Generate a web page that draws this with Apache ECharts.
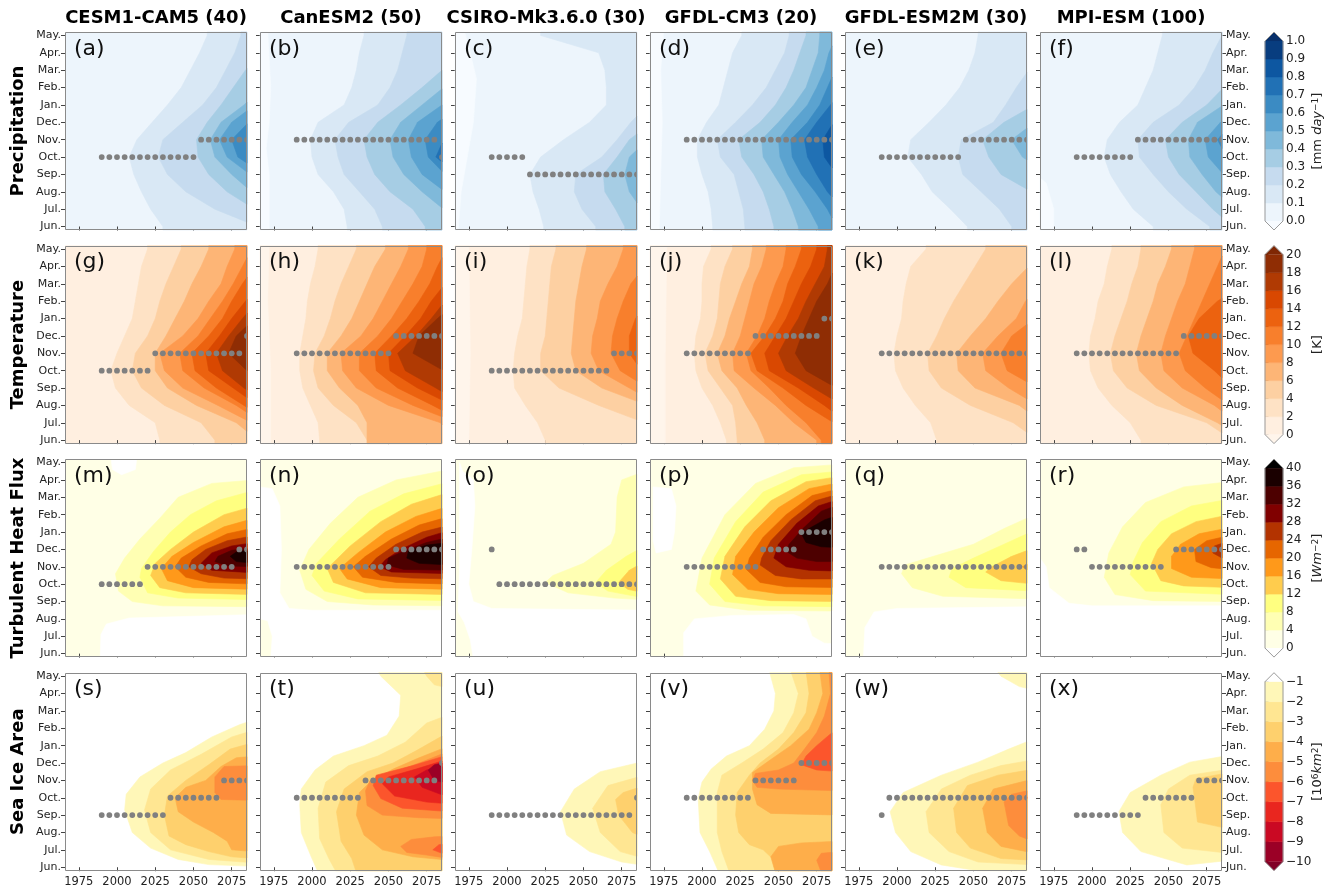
<!DOCTYPE html>
<html><head><meta charset="utf-8">
<script src="https://cdn.jsdelivr.net/npm/echarts@6/dist/echarts.min.js"></script>
<style>html,body{margin:0;padding:0;background:#fff}#c{width:1332px;height:891px}</style>
</head><body><div id="c"></div><script>
// ---------- categories / labels ----------
const months = ['Jun.','Jul.','Aug.','Sep.','Oct.','Nov.','Dec.','Jan.','Feb.','Mar.','Apr.','May.'];
const monthIdx = [0,1,2,3,4,5,6,7,8,9,10,11];
const models = ['CESM1-CAM5 (40)','CanESM2 (50)','CSIRO-Mk3.6.0 (30)','GFDL-CM3 (20)','GFDL-ESM2M (30)','MPI-ESM (100)'];
const variables = ['Precipitation','Temperature','Turbulent Heat Flux','Sea Ice Area'];
const letters = ['a','b','c','d','e','f','g','h','i','j','k','l','m','n','o','p','q','r','s','t','u','v','w','x'];
const xTicks = [1975,2000,2025,2050,2075];

// ---------- contour levels (colorbar ticks) ----------
const precipLevels = [0,0.1,0.2,0.3,0.4,0.5,0.6,0.7,0.8,0.9,1.0];
const tempLevels = [0,2,4,6,8,10,12,14,16,18,20];
const thfLevels = [0,4,8,12,16,20,24,28,32,36,40];
const iceLevels = [-10,-9,-8,-7,-6,-5,-4,-3,-2,-1];

// palettes: [under, bins..., over]
const bluesPal = ['#f7fbff','#edf5fc','#d9e8f5','#c6dbef','#a6cde4','#7fb9da','#5ba3d0','#3b8bc3','#2171b5','#0d57a1','#083d7f','#08306b'];
const orangesPal = ['#fff5eb','#ffefe0','#fee2c5','#fdd0a2','#fdb576','#fd9a4f','#f87f2c','#ec620f','#d94801','#b03a03','#8f2d04','#7f2704'];
const hotPal = ['#ffffff','#ffffe6','#ffffb3','#ffff80','#ffcc4d','#ff991a','#e66600','#b33300','#800000','#4d0000','#1a0000','#000000'];
const icePal = ['#800026','#9b0026','#ca0923','#e9261f','#fc552c','#fd8d3c','#feae4a','#fed06d','#ffe692','#fff7b8','#ffffff'];

// ---------- contour fields ----------
// each layer: [bin, boundary]; boundary = 12 years (Jun..May) where the bin starts (region to the right),
// or a list of [year, monthIndex] outline points. bin -1 = below lowest level.
const contA = [
  [1,[2030,2022,2016,2011,2008,2013,2023,2033,2042,2048,2054,2059]],
  [2,[2092,2064,2045,2033,2027,2030,2043,2056,2065,2071,2077,2081]],
  [3,[2100,2090,2072,2060,2053,2052,2059,2068,2076,2084,2095,2105]],
  [4,[2110,2100,2088,2075,2064,2061,2068,2083,2095,2105,2110,2110]],
  [5,[2110,2110,2100,2087,2072,2067,2075,2090,2105,2110,2110,2110]],
  [6,[2110,2110,2110,2096,2079,2075,2086,2100,2110,2110,2110,2110]]
];
const contB = [
  [-1,[[1966,-0.3],[1972,-0.3],[1972,3],[1970,4.5],[1972,6],[1973,8],[1971,11.3],[1966,11.3]]],
  [1,[2023,2021,2014,2004,2000,1999,2004,2021,2026,2029,2031,2034]],
  [2,[2046,2041,2031,2021,2017,2015,2024,2043,2051,2056,2059,2062]],
  [3,[2074,2066,2051,2041,2036,2034,2043,2058,2072,2085,2095,2100]],
  [4,[2100,2086,2072,2060,2053,2051,2058,2072,2086,2100,2110,2110]],
  [5,[2110,2100,2087,2072,2065,2063,2069,2085,2100,2110,2110,2110]],
  [6,[2110,2110,2100,2087,2076,2074,2082,2098,2110,2110,2110,2110]],
  [7,[2110,2110,2110,2095,2081,2086,2100,2110,2110,2110,2110,2110]]
];
const contC = [
  [-1,[[1966,11.3],[1966,-0.3],[1968,-0.3],[1970,2],[1974,4],[1978,6],[1980,8.5],[1976,10],[1972,11.3]]],
  [1,[2024,2021,2017,2015,2022,2037,2054,2065,2065,2064,2060,2022]],
  [2,[2058,2049,2044,2045,2062,2072,2081,2092,2110,2110,2110,2110]],
  [3,[2077,2071,2064,2063,2072,2080,2095,2110,2110,2110,2110,2110]],
  [4,[2095,2088,2080,2077,2080,2092,2110,2110,2110,2110,2110,2110]]
];
const contD = [
  [-1,[[1966,-0.3],[1972,-0.3],[1973,3],[1974,6],[1973,9],[1975,11.3],[1966,11.3]]],
  [1,[2007,2006,2004,2000,1997,1997,2003,2011,2014,2017,2020,2026]],
  [2,[2028,2027,2024,2021,2012,2010,2022,2033,2042,2048,2054,2057]],
  [3,[2047,2044,2040,2034,2026,2024,2038,2048,2055,2060,2064,2068]],
  [4,[2063,2059,2054,2047,2040,2039,2050,2060,2068,2072,2076,2077]],
  [5,[2076,2070,2063,2056,2051,2050,2059,2069,2075,2080,2083,2088]],
  [6,[2088,2082,2074,2065,2059,2058,2069,2077,2082,2087,2095,2100]],
  [7,[2100,2092,2082,2075,2069,2067,2075,2084,2092,2100,2110,2110]],
  [8,[2110,2110,2100,2088,2080,2079,2086,2100,2110,2110,2110,2110]]
];
const contE = [
  [1,[2046,2035,2023,2016,2007,2009,2021,2032,2041,2047,2051,2053]],
  [2,[2075,2067,2055,2043,2040,2042,2063,2071,2078,2086,2095,2100]],
  [3,[2110,2100,2088,2068,2060,2056,2070,2090,2105,2110,2110,2110]],
  [4,[2110,2110,2110,2100,2082,2075,2090,2110,2110,2110,2110,2110]]
];
const contF = [
  [-1,[[1966,-0.3],[1975,-0.3],[1975,1.0],[1970,2.5],[1966,2.8]]],
  [1,[2040,2027,2019,2012,2008,2010,2018,2030,2035,2040,2043,2046]],
  [2,[2077,2062,2050,2040,2031,2030,2040,2057,2067,2074,2079,2085]],
  [3,[2092,2079,2068,2057,2050,2048,2059,2075,2086,2100,2110,2110]],
  [4,[2110,2094,2081,2072,2064,2063,2069,2086,2100,2110,2110,2110]],
  [5,[2110,2110,2100,2086,2076,2074,2084,2100,2110,2110,2110,2110]],
  [6,[2110,2110,2110,2100,2088,2082,2092,2110,2110,2110,2110,2110]]
];
const contG = [
  [1,[2028,2025,2008,1999,1996,2000,2005,2010,2012,2014,2016,2020]],
  [2,[2064,2055,2031,2016,2010,2012,2020,2025,2028,2032,2037,2042]],
  [3,[2092,2078,2052,2033,2025,2025,2032,2038,2044,2049,2055,2060]],
  [4,[2100,2088,2066,2043,2031,2028,2043,2053,2060,2068,2072,2077]],
  [5,[2110,2095,2078,2057,2043,2041,2053,2061,2069,2076,2082,2088]],
  [6,[2110,2100,2083,2065,2051,2049,2060,2069,2075,2082,2090,2100]],
  [7,[2110,2110,2092,2076,2060,2058,2067,2075,2084,2095,2105,2110]],
  [8,[2110,2110,2100,2083,2069,2065,2073,2082,2092,2105,2110,2110]],
  [9,[2110,2110,2110,2100,2085,2073,2078,2090,2105,2110,2110,2110]]
];
const contH = [
  [-1,[[1966,-0.3],[1973,-0.3],[1973,4],[1971,8],[1972,11.3],[1966,11.3]]],
  [1,[2005,2004,1999,1994,1992,1992,1994,1996,1997,1999,2002,2004]],
  [2,[2036,2029,2014,2004,2001,2002,2008,2012,2015,2019,2024,2029]],
  [3,[2036,2036,2030,2018,2010,2010,2019,2026,2031,2036,2041,2048]],
  [4,[2092,2084,2050,2029,2020,2019,2032,2040,2046,2052,2058,2063]],
  [5,[2110,2095,2066,2042,2031,2031,2043,2052,2059,2066,2072,2075]],
  [6,[2110,2100,2079,2056,2042,2041,2052,2062,2070,2077,2082,2088]],
  [7,[2110,2110,2092,2069,2051,2050,2061,2071,2078,2087,2095,2105]],
  [8,[2110,2110,2100,2081,2061,2056,2068,2078,2087,2100,2110,2110]],
  [9,[2110,2110,2110,2100,2086,2066,2070,2082,2095,2110,2110,2110]]
];
const contI = [
  [-1,[[1966,-0.3],[1975,-0.3],[1976,5],[1975,11.3],[1966,11.3]]],
  [1,[2025,2020,2012,2005,2004,2005,2007,2010,2011,2012,2013,2015]],
  [2,[2100,2090,2060,2034,2022,2022,2025,2026,2027,2028,2029,2032]],
  [3,[2110,2105,2092,2062,2045,2042,2043,2044,2045,2047,2049,2052]],
  [4,[2110,2110,2100,2080,2060,2055,2056,2059,2061,2066,2072,2076]],
  [5,[2110,2110,2110,2092,2074,2068,2069,2072,2076,2081,2090,2100]],
  [6,[2110,2110,2110,2100,2088,2080,2080,2084,2092,2110,2110,2110]]
];
const contJ = [
  [-1,[[1966,-0.3],[1976,-0.3],[1976,5],[1977,11.3],[1966,11.3]]],
  [1,[2016,2012,2007,2000,1996,1995,1996,1999,2000,2000,2001,2006]],
  [2,[2023,2022,2020,2012,2004,2002,2007,2010,2011,2012,2015,2020]],
  [3,[2041,2036,2029,2023,2013,2010,2015,2018,2022,2026,2031,2033]],
  [4,[2075,2060,2048,2034,2021,2020,2025,2028,2031,2034,2039,2042]],
  [5,[2078,2068,2055,2044,2032,2029,2036,2041,2044,2048,2053,2055]],
  [6,[2095,2086,2068,2053,2036,2032,2041,2048,2053,2056,2061,2065]],
  [7,[2110,2095,2080,2063,2044,2041,2048,2055,2060,2065,2071,2075]],
  [8,[2110,2110,2092,2073,2055,2050,2056,2063,2068,2074,2080,2082]],
  [9,[2110,2110,2110,2088,2068,2061,2065,2070,2075,2082,2087,2095]]
];
const contK = [
  [1,[2026,2022,2012,2004,1999,1998,2000,2003,2004,2006,2009,2019]],
  [2,[2092,2076,2048,2029,2021,2020,2026,2031,2037,2044,2051,2058]],
  [3,[2110,2095,2080,2051,2040,2039,2048,2058,2066,2075,2086,2095]],
  [4,[2110,2110,2092,2073,2058,2056,2066,2078,2084,2095,2105,2110]],
  [5,[2110,2110,2110,2092,2072,2068,2075,2090,2105,2110,2110,2110]]
];
const contL = [
  [1,[2032,2025,2013,2004,1999,1998,1999,2002,2004,2008,2010,2013]],
  [2,[2092,2075,2042,2023,2014,2012,2015,2019,2023,2026,2030,2032]],
  [3,[2100,2082,2059,2042,2031,2029,2032,2036,2040,2043,2048,2052]],
  [4,[2110,2095,2080,2059,2047,2045,2048,2052,2056,2061,2064,2067]],
  [5,[2110,2110,2090,2074,2061,2057,2062,2067,2072,2077,2082,2087]],
  [6,[2110,2110,2110,2092,2080,2066,2063,2070,2082,2100,2110,2110]]
];
const contM = [
  [-1,[[1996,11.3],[1997,10.6],[2003,10.3],[2012,10.6],[2013,11.3]]],
  [-1,[[1989,-0.3],[1989.5,1.1],[1993,1.7],[2008,2.05],[2090,2.25],[2090,-0.3]]],
  [1,[[2090,10.0],[2062,9.8],[2040,9.0],[2028,7.8],[2015,6.6],[2005,5.5],[1999,4.6],[2001,3.6],[2010,3.0],[2030,2.75],[2090,2.7]]],
  [2,[[2090,9.4],[2065,8.8],[2048,8.0],[2035,7.0],[2024,5.9],[2016,4.9],[2015,4.4],[2020,3.5],[2040,3.2],[2090,3.1]]],
  [3,[[2090,8.5],[2070,8.0],[2050,7.0],[2035,6.0],[2025,5.2],[2022,4.5],[2028,3.8],[2045,3.5],[2090,3.4]]],
  [4,[[2090,7.8],[2070,7.3],[2050,6.4],[2036,5.6],[2029,4.9],[2033,4.2],[2050,3.8],[2090,3.7]]],
  [5,[[2090,7.25],[2072,6.9],[2055,6.2],[2042,5.5],[2038,5.0],[2045,4.4],[2060,4.1],[2090,4.0]]],
  [6,[[2090,6.8],[2072,6.5],[2058,6.0],[2049,5.4],[2047,5.0],[2055,4.6],[2070,4.35],[2090,4.3]]],
  [7,[[2090,6.4],[2075,6.2],[2062,5.8],[2055,5.2],[2062,4.8],[2090,4.65]]],
  [8,[[2090,6.1],[2075,5.95],[2066,5.6],[2064,5.3],[2072,5.05],[2090,5.0]]],
  [9,[[2090,6.0],[2078,5.85],[2074,5.6],[2078,5.3],[2090,5.2]]]
];
const contN = [
  [-1,[[1966,2.6],[1966,9.6],[1974,9.5],[1979,8.5],[1980,6],[1979,3.5],[1985,2.6],[2000,2.5],[2090,2.5],[2090,-0.3],[1973,-0.3],[1974,1],[1971,1.9],[1966,2.0]]],
  [1,[[2090,10.6],[2055,10.0],[2030,9.0],[2012,7.5],[1998,6.0],[1992,4.8],[1996,3.7],[2010,3.0],[2040,2.8],[2090,2.75]]],
  [2,[[2090,9.9],[2060,9.2],[2038,8.2],[2018,6.6],[2003,5.2],[2000,4.5],[2008,3.6],[2030,3.15],[2090,3.05]]],
  [3,[[2090,9.3],[2065,8.6],[2045,7.6],[2025,6.2],[2010,4.9],[2014,4.1],[2035,3.5],[2090,3.4]]],
  [4,[[2090,8.5],[2068,7.9],[2048,7.0],[2030,5.8],[2018,4.9],[2023,4.3],[2045,3.8],[2090,3.7]]],
  [5,[[2090,7.9],[2070,7.4],[2052,6.6],[2035,5.6],[2027,5.0],[2033,4.4],[2055,4.1],[2090,4.0]]],
  [6,[[2090,7.4],[2072,7.0],[2055,6.3],[2042,5.5],[2037,5.0],[2045,4.5],[2065,4.35],[2090,4.3]]],
  [7,[[2090,7.1],[2075,6.7],[2058,6.0],[2048,5.4],[2044,5.0],[2052,4.7],[2090,4.6]]],
  [8,[[2090,6.7],[2075,6.4],[2060,5.9],[2050,5.5],[2049,5.1],[2060,4.85],[2090,4.8]]],
  [9,[[2090,6.4],[2075,6.25],[2063,5.9],[2062,5.5],[2070,5.2],[2090,5.1]]]
];
const contO = [
  [-1,[[1969,11.0],[1971,10.5],[1978,10.0],[1979,8.5],[1977,6],[1975,4],[1978,3],[1990,2.6],[2040,2.55],[2090,2.5],[2090,-0.3],[1978,-0.3],[1976,0.8],[1972,1.8],[1968,2.4],[1969,5],[1969,9]]],
  [1,[[2090,10.5],[2075,10.0],[2072,9],[2071,7.0],[2068,6.3],[2050,5.2],[2030,4.5],[2025,4.1],[2040,3.5],[2070,3.2],[2090,3.1]]],
  [2,[[2090,6.2],[2078,5.6],[2065,4.8],[2058,4.1],[2066,3.6],[2090,3.2]]],
  [3,[[2090,5.3],[2080,4.8],[2073,4.1],[2079,3.7],[2090,3.5]]]
];
const contP = [
  [-1,[[1968,9.6],[1980,9.5],[1983,8.5],[1982,7],[1980,6],[1970,5.8],[1968,6.5]]],
  [-1,[[1988,-0.3],[1988,1.2],[1995,2.0],[2020,2.2],[2060,2.25],[2068,2.0],[2072,1.0],[2080,0.6],[2090,0.55],[2090,-0.3]]],
  [1,[[2090,10.9],[2060,10.7],[2035,9.8],[2015,8],[2000,5.5],[1996,3.6],[2005,2.8],[2030,2.5],[2090,2.45]]],
  [2,[[2090,10.5],[2065,10.3],[2040,9.3],[2022,7.6],[2008,5.5],[2005,4.0],[2015,3.0],[2040,2.75],[2090,2.7]]],
  [3,[[2090,10.2],[2068,9.9],[2045,8.8],[2028,7.3],[2015,5.6],[2012,4.3],[2022,3.3],[2045,3.05],[2090,3.0]]],
  [4,[[2090,9.85],[2070,9.5],[2050,8.4],[2034,7.0],[2022,5.6],[2020,4.55],[2030,3.7],[2050,3.45],[2090,3.4]]],
  [5,[[2090,9.5],[2072,9.1],[2055,8.0],[2040,6.7],[2031,5.5],[2029,4.85],[2038,4.1],[2055,3.85],[2090,3.8]]],
  [6,[[2090,9.2],[2074,8.8],[2058,7.7],[2045,6.5],[2039,5.5],[2038,5.1],[2048,4.5],[2065,4.3],[2090,4.3]]],
  [7,[[2090,8.9],[2076,8.5],[2062,7.5],[2050,6.3],[2047,5.5],[2055,5.0],[2070,4.8],[2090,4.75]]],
  [8,[[2090,8.6],[2078,8.2],[2066,7.2],[2057,6.3],[2055,5.9],[2062,5.5],[2075,5.3],[2090,5.3]]],
  [9,[[2090,8.0],[2080,7.7],[2070,7.2],[2065,6.9],[2068,6.4],[2078,6.15],[2090,6.1]]]
];
const contQ = [
  [-1,[[1978,-0.3],[1979,1.5],[1985,2.4],[2000,2.6],[2090,2.7],[2090,-0.3]]],
  [1,[[2090,8.0],[2070,7.2],[2050,6.3],[2020,5.5],[2005,5.1],[2003,4.6],[2010,3.8],[2030,3.3],[2090,3.15]]],
  [2,[[2090,7.1],[2070,6.3],[2050,5.5],[2036,4.9],[2034,4.4],[2045,3.8],[2090,3.6]]],
  [3,[[2090,6.1],[2075,5.6],[2062,5.0],[2058,4.7],[2068,4.2],[2090,4.0]]],
  [4,[[2090,5.4],[2082,5.0],[2090,4.5]]]
];
const contR = [
  [-1,[[1966,-0.3],[1966,5.5],[1970,5],[1972,3.8],[1985,2.9],[2000,2.75],[2090,2.75],[2090,-0.3]]],
  [1,[[2090,9.9],[2060,9.6],[2035,8.7],[2020,7.3],[2011,5.8],[2008,4.4],[2015,3.4],[2040,3.05],[2090,3.0]]],
  [2,[[2090,8.9],[2065,8.5],[2045,7.6],[2033,6.4],[2027,5.3],[2025,4.55],[2035,3.6],[2090,3.4]]],
  [3,[[2090,8.0],[2068,7.6],[2052,6.9],[2043,6.0],[2039,5.2],[2045,4.2],[2060,3.9],[2090,3.8]]],
  [4,[[2090,7.25],[2070,6.9],[2058,6.3],[2052,5.6],[2052,4.9],[2065,4.4],[2090,4.3]]],
  [5,[[2090,6.8],[2075,6.5],[2067,6.0],[2068,5.3],[2078,4.95],[2090,4.85]]],
  [6,[[2090,6.5],[2080,6.2],[2079,5.8],[2085,5.5],[2090,5.5]]]
];
const contS = [
  [8,[[2090,8.5],[2080,8.2],[2062,7.5],[2045,6.6],[2030,6.0],[2015,5.2],[2006,4.2],[2005,3.3],[2010,2.0],[2022,1.1],[2040,0.45],[2060,0.15],[2090,0.05]]],
  [7,[[2090,7.9],[2075,7.5],[2055,6.5],[2035,5.6],[2022,4.5],[2018,3.3],[2022,2.0],[2035,1.0],[2060,0.45],[2090,0.25]]],
  [6,[[2090,7.2],[2074,6.8],[2060,5.9],[2045,5.0],[2033,4.1],[2031,3.0],[2034,1.8],[2045,1.3],[2060,0.9],[2075,0.6],[2090,0.5]]],
  [5,[[2090,6.4],[2078,6.3],[2068,5.8],[2058,5.0],[2045,4.6],[2038,4.0],[2040,3.2],[2050,2.6],[2063,2.0],[2072,1.5],[2075,1.0],[2090,0.9]]],
  [4,[[2090,5.85],[2070,5.8],[2064,5.2],[2064,4.3],[2068,3.9],[2090,3.85]]]
];
const contT = [
  [8,[[2043,11.3],[2045,11],[2058,9.9],[2057,8.7],[2049,7.6],[2034,7.0],[2014,6.4],[2002,5.6],[1993,4.5],[1992,3.6],[1993,2.0],[1999,0.7],[2004,-0.3],[2200,-0.3],[2200,11.3]]],
  [7,[[2073,11.3],[2075,11],[2080,10.5],[2090,10.3],[2090,11.3]]],
  [7,[[2090,8.8],[2075,8.3],[2061,7.2],[2043,6.4],[2024,5.85],[2009,4.9],[2004,3.4],[2005,1.65],[2011,0.5],[2016,-0.3],[2200,-0.3],[2200,8.8]]],
  [6,[[2090,7.8],[2068,6.7],[2053,6.0],[2036,5.5],[2021,4.5],[2016,3.2],[2019,1.5],[2026,0.5],[2029,-0.3],[2200,-0.3],[2200,7.8]]],
  [5,[[2090,7.0],[2070,6.3],[2053,5.65],[2038,4.9],[2031,4.3],[2029,3.0],[2034,1.85],[2046,1.0],[2066,0.6],[2090,0.4]]],
  [4,[[2090,1.8],[2080,1.75],[2065,1.6],[2058,1.2],[2062,0.85],[2075,0.7],[2090,0.5]]],
  [3,[[2090,1.4],[2083,1.3],[2079,1.0],[2085,0.8],[2090,0.75]]],
  [4,[[2090,6.7],[2073,6.1],[2053,5.45],[2038,5.0],[2035,4.4],[2036,3.55],[2046,3.0],[2070,2.85],[2090,2.8]]],
  [3,[[2090,6.5],[2066,5.85],[2042,5.3],[2040,4.7],[2045,3.95],[2059,3.4],[2090,3.2]]],
  [2,[[2090,6.25],[2068,5.65],[2050,5.2],[2046,4.8],[2054,4.1],[2075,3.75],[2090,3.65]]],
  [1,[[2090,5.9],[2075,5.6],[2067,5.2],[2072,4.6],[2090,4.0]]],
  [0,[[2090,6.1],[2080,5.9],[2076,5.6],[2080,5.0],[2090,4.8]]]
];
const contU = [
  [8,[[2090,6.1],[2061,5.5],[2044,4.5],[2035,3.2],[2039,1.85],[2054,0.9],[2075,0.3],[2090,0.1]]],
  [7,[[2090,5.3],[2066,4.7],[2056,3.4],[2061,2.0],[2074,0.9],[2090,0.5]]],
  [6,[[2090,4.7],[2076,4.3],[2071,3.9],[2073,3.0],[2082,2.0],[2090,1.7]]]
];
const contV = [
  [8,[[2044,11.3],[2048,10],[2047,9],[2041,7.95],[2031,7.0],[2016,6.4],[2006,5.65],[2000,4.9],[1997.5,3.95],[1998.7,2.0],[2005,0.9],[2011,-0.3],[2200,-0.3],[2200,11.3]]],
  [7,[[2058,11.3],[2063,10],[2060,8.9],[2053,7.75],[2040,6.8],[2026,6.0],[2013,5.3],[2010,4.3],[2010,2.0],[2013,0.9],[2018,-0.3],[2200,-0.3],[2200,11.3]]],
  [6,[[2068,11.3],[2070,10],[2068,8.9],[2060,7.75],[2050,6.8],[2038,6.0],[2031,5.3],[2023,4.3],[2022,3.0],[2024,2.0],[2031,1.3],[2040,1.0],[2046,0.5],[2048,-0.3],[2200,-0.3],[2200,11.3]]],
  [5,[[2077,11.3],[2079,10],[2075,8.9],[2070,7.95],[2058,7.0],[2045,6.2],[2033,5.45],[2033,4.5],[2036,3.6],[2045,3.1],[2090,3.0],[2090,11.3]]],
  [5,[[2090,1.5],[2065,1.4],[2050,1.2],[2045,0.6],[2048,-0.3],[2090,-0.3]]],
  [4,[[2083,11.3],[2084,10],[2080,8.7],[2075,7.75],[2067,6.8],[2060,6.0],[2050,5.6],[2035,5.4],[2033,5.0],[2036,4.6],[2050,4.5],[2090,4.4],[2090,11.3]]],
  [4,[[2090,0.9],[2078,0.8],[2075,0.4],[2078,-0.3],[2090,-0.3]]],
  [3,[[2090,8.1],[2083,7.6],[2075,7.0],[2068,6.4],[2065,5.9],[2075,5.6],[2090,5.5]]]
];
const contW = [
  [8,[[2065,11.3],[2068,11],[2080,10.4],[2090,10.2],[2090,11.3]]],
  [8,[[2090,7.4],[2073,6.8],[2053,6.05],[2029,5.3],[2004,4.3],[1995.5,3.2],[1999,2.0],[2009,0.9],[2029,0.13],[2060,-0.3],[2090,-0.3]]],
  [7,[[2090,6.2],[2068,5.85],[2048,5.3],[2029,4.5],[2019,3.2],[2021,2.0],[2034,0.9],[2053,0.3],[2090,0.13]]],
  [6,[[2090,5.65],[2066,5.3],[2046,4.7],[2037,3.4],[2039,2.0],[2048,1.1],[2068,0.5],[2090,0.4]]],
  [5,[[2090,5.1],[2063,4.5],[2056,3.4],[2059,2.0],[2068,1.2],[2090,0.8]]],
  [4,[[2090,4.5],[2075,4.2],[2070,3.75],[2073,2.4],[2080,1.8],[2090,1.45]]],
  [3,[[2090,4.3],[2084,4.0],[2090,3.7]]]
];
const contX = [
  [8,[[2090,6.45],[2064,6.05],[2045,5.3],[2025,4.3],[2017.6,3.2],[2020,2.0],[2032,0.9],[2062,0.13],[2080,0.3],[2090,0.4]]],
  [7,[[2090,5.65],[2064,5.3],[2050,4.5],[2045,3.6],[2047,2.0],[2059,1.1],[2090,0.8]]],
  [6,[[2090,5.45],[2068,5.1],[2066,4.6],[2067,4.0],[2069,2.6],[2090,2.2]]]
];

// ---------- significance dots: [monthIndex, years] ----------
const dotsA = [[4,[1990,1995,2000,2005,2010,2015,2020,2025,2030,2035,2040,2045,2050]],[5,[2055,2060,2065,2070,2075,2080,2085]]];
const dotsB = [[5,[1990,1995,2000,2005,2010,2015,2020,2025,2030,2035,2040,2045,2050,2055,2060,2065,2070,2075,2080]],[4,[2085]]];
const dotsC = [[4,[1990,1995,2000,2005,2010]],[3,[2015,2020,2025,2030,2035,2040,2045,2050,2055,2060,2065,2070,2075,2080,2085]]];
const dotsD = [[5,[1990,1995,2000,2005,2010,2015,2020,2025,2030,2035,2040,2045,2050,2055,2060,2065,2070,2075,2080,2085]]];
const dotsE = [[4,[1990,1995,2000,2005,2010,2015,2020,2025,2030,2035,2040]],[5,[2045,2050,2055,2060,2065,2070,2075,2080,2085]]];
const dotsF = [[4,[1990,1995,2000,2005,2010,2015,2020,2025]],[5,[2030,2035,2040,2045,2050,2055,2060,2065,2070,2075,2080,2085]]];
const dotsG = [[4,[1990,1995,2000,2005,2010,2015,2020]],[5,[2025,2030,2035,2040,2045,2050,2055,2060,2065,2070,2075,2080]],[6,[2085]]];
const dotsH = [[5,[1990,1995,2000,2005,2010,2015,2020,2025,2030,2035,2040,2045,2050]],[6,[2055,2060,2065,2070,2075,2080,2085]]];
const dotsI = [[4,[1990,1995,2000,2005,2010,2015,2020,2025,2030,2035,2040,2045,2050,2055,2060,2065]],[5,[2070,2075,2080,2085]]];
const dotsJ = [[5,[1990,1995,2000,2005,2010,2015,2020,2025,2030]],[6,[2035,2040,2045,2050,2055,2060,2065,2070,2075]],[7,[2080,2085]]];
const dotsK = [[5,[1990,1995,2000,2005,2010,2015,2020,2025,2030,2035,2040,2045,2050,2055,2060,2065,2070,2075,2080,2085]]];
const dotsL = [[5,[1990,1995,2000,2005,2010,2015,2020,2025,2030,2035,2040,2045,2050,2055]],[6,[2060,2065,2070,2075,2080,2085]]];
const dotsM = [[4,[1990,1995,2000,2005,2010,2015]],[5,[2020,2025,2030,2035,2040,2045,2050,2055,2060,2065,2070,2075]],[6,[2080,2085]]];
const dotsN = [[5,[1990,1995,2000,2005,2010,2015,2020,2025,2030,2035,2040,2045,2050]],[6,[2055,2060,2065,2070,2075,2080,2085]]];
const dotsO = [[6,[1990]],[4,[1995,2000,2005,2010,2015,2020,2025,2030,2035,2040,2045,2050,2055,2060,2065,2070,2075,2080,2085]]];
const dotsP = [[5,[1990,1995,2000,2005,2010,2015,2020,2025,2030,2035]],[6,[2040,2045,2050,2055,2060]],[7,[2065,2070,2075,2080,2085]]];
const dotsQ = [[5,[1990,1995,2000,2005,2010,2015,2020,2025,2030,2035,2040,2045,2050,2055,2060,2065,2070,2075,2080,2085]]];
const dotsR = [[6,[1990,1995]],[5,[2000,2005,2010,2015,2020,2025,2030,2035,2040,2045]],[6,[2055,2060,2065,2070,2075,2080,2085]]];
const dotsS = [[3,[1990,1995,2000,2005,2010,2015,2020,2025,2030]],[4,[2035,2040,2045,2050,2055,2060,2065]],[5,[2070,2075,2080,2085]]];
const dotsT = [[4,[1990,1995,2000,2005,2010,2015,2020,2025,2030]],[5,[2035,2040,2045,2050,2055,2060,2065,2070,2075,2080]],[6,[2085]]];
const dotsU = [[3,[1990,1995,2000,2005,2010,2015,2020,2025,2030,2035,2040,2045,2050,2055,2060,2065,2070,2075,2080]],[4,[2085]]];
const dotsV = [[4,[1990,1995,2000,2005,2010,2015,2020,2025,2030]],[5,[2035,2040,2045,2050,2055,2060]],[6,[2065,2070,2075,2080,2085]]];
const dotsW = [[3,[1990]],[4,[1995,2000,2005,2010,2015,2020,2025,2030,2035,2040,2045,2050,2055,2060,2065,2070,2075,2080,2085]]];
const dotsX = [[3,[1990,1995,2000,2005,2010,2015,2020,2025,2030]],[4,[2035,2040,2045,2050,2055,2060,2065]],[5,[2070,2075,2080,2085]]];

// ---------- layout ----------
const COL_LEFT = [65,260,455,650,845,1040], PW = 182;
const ROW_TOP = [32,245.6,459.1,672.7], PH = 198;
const X_MIN = 1966, X_MAX = 2085, Y_MIN = -0.2, Y_MAX = 11.2;
const CB_EXT = 9;
const FONT = '"DejaVu Sans", sans-serif';

const rows = [
  {pal: bluesPal, bg: 0, levels: precipLevels, step: 0.1, fmt: v => v.toFixed(1),
   unit: '[mm {it|day}{sup|−1}]', panels: [contA,contB,contC,contD,contE,contF], dots: [dotsA,dotsB,dotsC,dotsD,dotsE,dotsF]},
  {pal: orangesPal, bg: 0, levels: tempLevels, step: 2, fmt: v => String(Math.round(v)),
   unit: '[K]', panels: [contG,contH,contI,contJ,contK,contL], dots: [dotsG,dotsH,dotsI,dotsJ,dotsK,dotsL]},
  {pal: hotPal, bg: 0, levels: thfLevels, step: 4, fmt: v => String(Math.round(v)),
   unit: '[{it|Wm}{sup|−2}]', panels: [contM,contN,contO,contP,contQ,contR], dots: [dotsM,dotsN,dotsO,dotsP,dotsQ,dotsR]},
  {pal: icePal, bg: 9, levels: iceLevels, step: 1, fmt: v => (v < 0 ? '−' + Math.abs(Math.round(v)) : String(Math.round(v))),
   unit: '[10{sup|6}{it|km}{sup|2}]', panels: [contS,contT,contU,contV,contW,contX], dots: [dotsS,dotsT,dotsU,dotsV,dotsW,dotsX]}
];

function clipPoly(pts, x0, y0, x1, y1) {
  const edges = [
    [p => p[0] >= x0, (a, b) => [x0, a[1] + (x0 - a[0]) / (b[0] - a[0]) * (b[1] - a[1])]],
    [p => p[0] <= x1, (a, b) => [x1, a[1] + (x1 - a[0]) / (b[0] - a[0]) * (b[1] - a[1])]],
    [p => p[1] >= y0, (a, b) => [a[0] + (y0 - a[1]) / (b[1] - a[1]) * (b[0] - a[0]), y0]],
    [p => p[1] <= y1, (a, b) => [a[0] + (y1 - a[1]) / (b[1] - a[1]) * (b[0] - a[0]), y1]]
  ];
  let out = pts;
  for (const [inside, inter] of edges) {
    const inp = out; out = [];
    if (!inp.length) break;
    for (let i = 0; i < inp.length; i++) {
      const cur = inp[i], prev = inp[(i + inp.length - 1) % inp.length];
      const ci = inside(cur), pi = inside(prev);
      if (ci) { if (!pi) out.push(inter(prev, cur)); out.push(cur); }
      else if (pi) out.push(inter(prev, cur));
    }
  }
  return out;
}

function contourRenderer(layers, pal) {
  return function (params, api) {
    const layer = layers[params.dataIndex];
    const bin = layer[0], d = layer[1];
    let pts;
    if (typeof d[0] === 'number') {
      pts = [[d[0], -1]];
      d.forEach((v, m) => pts.push([v, m]));
      pts.push([d[11], 12], [2300, 12], [2300, -1]);
    } else pts = d;
    const cs = params.coordSys;
    const px = clipPoly(pts.map(p => api.coord(p)), cs.x, cs.y, cs.x + cs.width, cs.y + cs.height);
    if (px.length < 3) return {type: 'group', children: []};
    const col = pal[bin + 1];
    return {type: 'polygon', shape: {points: px}, style: {fill: col, stroke: col, lineWidth: 0.6}};
  };
}

function dotRenderer(params, api) {
  const p = api.coord([api.value(0), api.value(1)]);
  const cs = params.coordSys;
  return {type: 'circle', shape: {cx: p[0], cy: p[1], r: 2.9}, style: {fill: '#808080'},
    clipPath: {type: 'rect', shape: {x: cs.x, y: cs.y, width: cs.width, height: cs.height}}};
}

function colorbarRenderer(levels, pal) {
  return function (params, api) {
    const children = [];
    const n = levels.length - 1;
    for (let i = 0; i < n; i++) {
      const p0 = api.coord([0, levels[i]]), p1 = api.coord([1, levels[i + 1]]);
      children.push({type: 'rect', shape: {x: p0[0], y: p1[1], width: p1[0] - p0[0], height: p0[1] - p1[1]},
        style: {fill: pal[i + 1], stroke: pal[i + 1], lineWidth: 0.5}});
    }
    const b0 = api.coord([0, levels[0]]), b1 = api.coord([1, levels[0]]);
    const t0 = api.coord([0, levels[n]]), t1 = api.coord([1, levels[n]]);
    const ext = CB_EXT;
    const mx = (b0[0] + b1[0]) / 2;
    children.push({type: 'polygon', shape: {points: [b0, b1, [mx, b0[1] + ext]]}, style: {fill: pal[0]}});
    children.push({type: 'polygon', shape: {points: [t0, t1, [mx, t0[1] - ext]]}, style: {fill: pal[n + 1]}});
    children.push({type: 'polygon', shape: {points: [[mx, t0[1] - ext], t1, b1, [mx, b0[1] + ext], b0, t0]},
      style: {fill: 'none', stroke: '#9a9a9a', lineWidth: 1}});
    return {type: 'group', children};
  };
}

const grids = [], xAxes = [], yAxes = [], series = [], graphics = [];
let gi = 0;
rows.forEach((row, r) => {
  row.panels.forEach((layers, c) => {
    const left = COL_LEFT[c], top = ROW_TOP[r];
    grids.push({left, top, width: PW, height: PH, show: true, backgroundColor: row.pal[row.bg + 1], borderWidth: 0});
    xAxes.push({gridIndex: gi, type: 'value', min: X_MIN, max: X_MAX, axisLine: {show: false}, splitLine: {show: false},
      axisTick: {show: true, customValues: xTicks, length: 4, lineStyle: {color: '#444'}},
      axisLabel: {show: r === 3, customValues: xTicks, formatter: v => String(v), fontSize: 11.5, color: '#222', fontFamily: FONT, margin: 5}});
    yAxes.push({gridIndex: gi, type: 'value', min: Y_MIN, max: Y_MAX, axisLine: {show: false}, splitLine: {show: false},
      axisTick: {show: true, customValues: monthIdx, length: 4, lineStyle: {color: '#444'}},
      axisLabel: {show: c === 0, customValues: monthIdx, formatter: v => months[Math.round(v)], fontSize: 11, color: '#222', fontFamily: FONT, margin: 4}});
    const yIdx = yAxes.length - 1;
    if (c === 5) {
      yAxes.push({gridIndex: gi, type: 'value', position: 'right', min: Y_MIN, max: Y_MAX, axisLine: {show: false}, splitLine: {show: false},
        axisTick: {show: true, customValues: monthIdx, length: 4, lineStyle: {color: '#444'}},
        axisLabel: {show: true, customValues: monthIdx, formatter: v => months[Math.round(v)], fontSize: 11, color: '#222', fontFamily: FONT, margin: 4}});
    }
    series.push({type: 'custom', xAxisIndex: gi, yAxisIndex: yIdx, silent: true, z: 2,
      renderItem: contourRenderer(layers, row.pal), data: layers.map(() => [2000, 5])});
    const pts = [];
    row.dots[c].forEach(([m, yrs]) => yrs.forEach(y => pts.push([y, m])));
    series.push({type: 'custom', xAxisIndex: gi, yAxisIndex: yIdx, silent: true, z: 5, clip: true,
      renderItem: dotRenderer, data: pts});
    graphics.push({type: 'rect', shape: {x: left + 0.5, y: Math.round(top) + 0.5, width: PW - 1, height: PH - 1},
      style: {fill: 'none', stroke: '#8a8a8a', lineWidth: 1}, z: 100, silent: true});
    graphics.push({type: 'text', x: left + 9, y: top + 17, z: 101, silent: true,
      style: {text: '(' + letters[r * 6 + c] + ')', font: '22px ' + FONT, fill: '#111', align: 'left', verticalAlign: 'middle', textAlign: 'left', textVerticalAlign: 'middle'}});
    gi++;
  });
  // colorbar (interior spans the panel height less the two extension triangles)
  grids.push({left: 1265, top: ROW_TOP[r] + CB_EXT, width: 18, height: PH - 2 * CB_EXT});
  xAxes.push({gridIndex: gi, type: 'value', min: 0, max: 1, show: false});
  const lv = row.levels;
  yAxes.push({gridIndex: gi, type: 'value', position: 'right', min: lv[0], max: lv[lv.length - 1], interval: row.step,
    axisLine: {show: false}, splitLine: {show: false},
    axisTick: {show: true, length: 3.5, lineStyle: {color: '#333'}},
    axisLabel: {formatter: row.fmt, fontSize: 12, color: '#222', fontFamily: FONT, margin: 3}});
  series.push({type: 'custom', xAxisIndex: gi, yAxisIndex: yAxes.length - 1, silent: true, z: 2,
    renderItem: colorbarRenderer(lv, row.pal), data: [[0.5, lv[0]]]});
  gi++;
  // row label
  graphics.push({type: 'text', x: 18, y: ROW_TOP[r] + PH / 2, rotation: Math.PI / 2, silent: true,
    style: {text: variables[r], font: 'bold 18px ' + FONT, fill: '#000', align: 'center', verticalAlign: 'middle', textAlign: 'center', textVerticalAlign: 'middle'}});
  // unit label
  graphics.push({type: 'text', x: 1318, y: ROW_TOP[r] + PH / 2, rotation: Math.PI / 2, silent: true,
    style: {text: row.unit, font: '13px ' + FONT, fill: '#222', align: 'center', verticalAlign: 'middle', textAlign: 'center', textVerticalAlign: 'middle',
      rich: {it: {fontStyle: 'italic', fontSize: 13, fontFamily: FONT, fill: '#222'}, sup: {fontSize: 9, fontFamily: FONT, verticalAlign: 'top', fill: '#222'}}}});
});
models.forEach((t, c) => {
  graphics.push({type: 'text', x: COL_LEFT[c] + PW / 2, y: 18, silent: true,
    style: {text: t, font: 'bold 18px ' + FONT, fill: '#000', align: 'center', verticalAlign: 'middle', textAlign: 'center', textVerticalAlign: 'middle'}});
});

const chart = echarts.init(document.getElementById('c'), null, {renderer: 'canvas'});
chart.setOption({
  animation: false,
  backgroundColor: '#ffffff',
  textStyle: {fontFamily: FONT},
  grid: grids, xAxis: xAxes, yAxis: yAxes, series: series, graphic: graphics
});
</script></body></html>
